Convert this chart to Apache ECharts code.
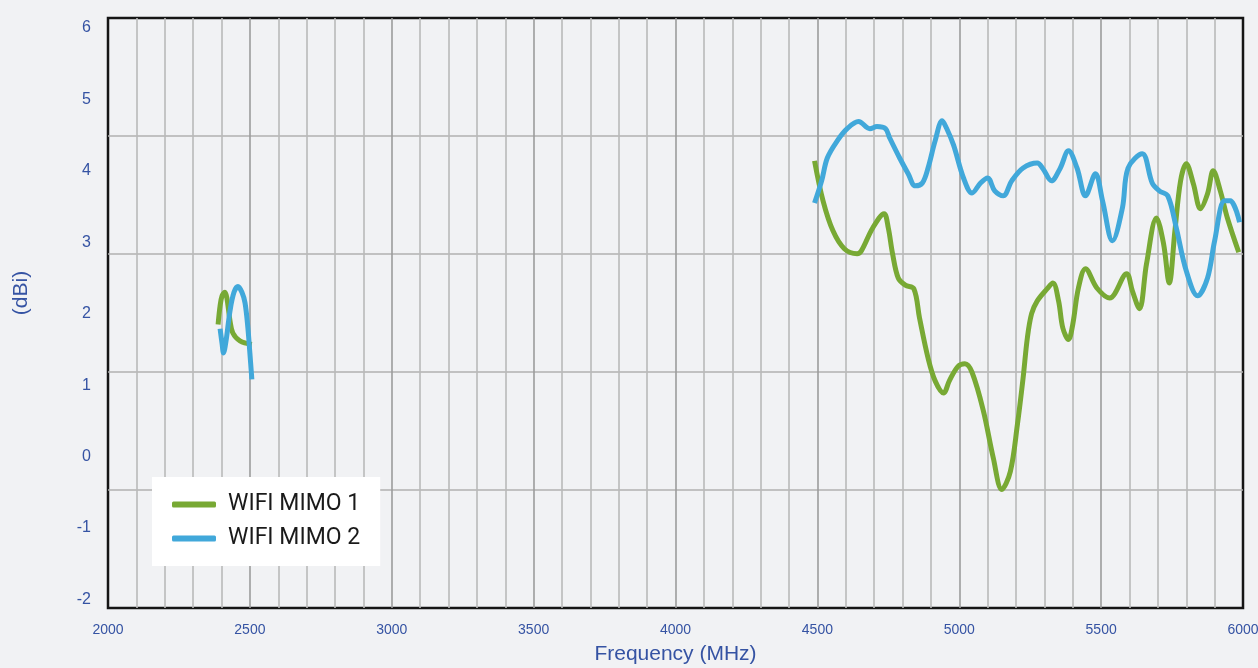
<!DOCTYPE html>
<html>
<head>
<meta charset="utf-8">
<script src="https://cdn.jsdelivr.net/npm/echarts@6/dist/echarts.min.js"></script>
<style>
html,body{margin:0;padding:0;background:#f1f2f4;}
#c{width:1258px;height:668px;}
</style>
</head>
<body>
<div id="c"></div>
<script>
// ---- data (frequency MHz, gain dBi) ----
var seriesNames = ['WIFI MIMO 1', 'WIFI MIMO 2'];
var yTickLabels = [-2, -1, 0, 1, 2, 3, 4, 5, 6];

var mimo1LowFreq = [2388, 2395, 2402, 2412, 2419, 2430, 2440, 2465, 2507];
var mimo1LowGain = [1.85, 2.11, 2.25, 2.30, 2.22, 1.90, 1.73, 1.62, 1.57];

var mimo1HighFreq = [4490, 4520, 4555, 4595, 4640, 4655, 4695, 4735, 4750, 4765, 4785, 4810, 4840, 4860, 4890, 4915, 4945, 4965, 4995, 5020, 5045, 5085, 5120, 5150, 5180, 5205, 5225, 5240, 5255, 5275, 5310, 5330, 5350, 5365, 5385, 5400, 5420, 5445, 5485, 5530, 5590, 5610, 5635, 5660, 5695, 5720, 5740, 5760, 5780, 5800, 5825, 5850, 5875, 5895, 5920, 5945, 5985];
var mimo1HighGain = [4.14, 3.58, 3.16, 2.91, 2.84, 2.88, 3.20, 3.40, 3.20, 2.84, 2.50, 2.40, 2.35, 1.94, 1.38, 1.06, 0.89, 1.06, 1.26, 1.30, 1.18, 0.64, -0.02, -0.46, -0.21, 0.45, 1.10, 1.66, 2.00, 2.18, 2.35, 2.43, 2.18, 1.80, 1.64, 1.85, 2.36, 2.63, 2.36, 2.22, 2.56, 2.32, 2.07, 2.70, 3.34, 2.98, 2.43, 3.16, 3.86, 4.10, 3.82, 3.47, 3.68, 4.00, 3.72, 3.34, 2.86];

var mimo2LowFreq = [2395, 2402, 2407, 2416, 2430, 2444, 2458, 2472, 2483, 2493, 2500, 2507];
var mimo2LowGain = [1.79, 1.58, 1.45, 1.62, 2.04, 2.30, 2.38, 2.30, 2.15, 1.80, 1.45, 1.08];

var mimo2HighFreq = [4490, 4515, 4535, 4570, 4605, 4645, 4685, 4710, 4740, 4755, 4790, 4820, 4845, 4870, 4890, 4915, 4940, 4955, 4980, 5015, 5045, 5075, 5100, 5125, 5155, 5185, 5225, 5275, 5295, 5325, 5355, 5385, 5415, 5445, 5480, 5505, 5540, 5575, 5595, 5645, 5680, 5705, 5735, 5765, 5800, 5840, 5875, 5900, 5935, 5955, 5988];
var mimo2HighGain = [3.55, 3.86, 4.18, 4.42, 4.59, 4.69, 4.59, 4.62, 4.59, 4.46, 4.18, 3.96, 3.79, 3.83, 4.04, 4.42, 4.70, 4.60, 4.36, 3.90, 3.69, 3.83, 3.90, 3.72, 3.65, 3.86, 4.04, 4.11, 4.03, 3.86, 4.03, 4.28, 4.04, 3.65, 3.96, 3.58, 3.02, 3.48, 4.04, 4.24, 3.83, 3.72, 3.65, 3.20, 2.60, 2.25, 2.50, 3.02, 3.58, 3.58, 3.28];

function build(fa, ga, fb, gb) {
  var out = [];
  for (var i = 0; i < fa.length; i++) out.push([fa[i], ga[i]]);
  out.push([3500, null]);
  for (var j = 0; j < fb.length; j++) out.push([fb[j], gb[j]]);
  return out;
}

var labelBlue = '#3553a3';
var chart = echarts.init(document.getElementById('c'), null, {renderer: 'canvas'});
chart.setOption({
  backgroundColor: '#f1f2f4',
  animation: false,
  grid: {
    left: 108, right: 15, top: 18, bottom: 60,
    outerBoundsMode: 'none', containLabel: false,
    show: true, borderColor: '#151515', borderWidth: 2.5, backgroundColor: 'transparent'
  },
  legend: {
    data: seriesNames,
    orient: 'vertical',
    left: 152, top: 477,
    backgroundColor: '#ffffff',
    padding: [16, 20, 16, 20],
    itemGap: 11,
    itemWidth: 44, itemHeight: 6,
    icon: 'roundRect',
    textStyle: {fontFamily: 'Roboto', fontSize: 23, color: '#1a1a1a', padding: [0, 0, 0, 7]}
  },
  xAxis: {
    type: 'value', min: 2000, max: 6000, interval: 500,
    name: 'Frequency (MHz)', nameLocation: 'middle', nameGap: 36,
    nameTextStyle: {fontFamily: 'Liberation Sans', fontSize: 21, color: labelBlue},
    axisLine: {show: false}, axisTick: {show: false},
    axisLabel: {fontFamily: 'Liberation Sans', fontSize: 14, color: labelBlue, margin: 15,
      formatter: function (v) { return String(v); }},
    splitLine: {show: true, showMinLine: false, showMaxLine: false, lineStyle: {color: '#9c9c9c', width: 1.6}},
    minorTick: {show: false, splitNumber: 5},
    minorSplitLine: {show: true, lineStyle: {color: '#b9b9b9', width: 1.6}}
  },
  yAxis: [{
    type: 'value', min: -2.12, max: 6.14,
    name: '(dBi)', nameLocation: 'middle', nameGap: 76,
    nameTextStyle: {fontFamily: 'Liberation Sans', fontSize: 21, color: labelBlue, padding: [0, 0, 0, 40]},
    axisLine: {show: false}, axisTick: {show: false},
    axisLabel: {customValues: yTickLabels, fontFamily: 'Liberation Sans', fontSize: 16, color: labelBlue, margin: 17},
    splitLine: {show: false}
  }, {
    type: 'value', min: 0, max: 5, interval: 1, position: 'left',
    axisLine: {show: false}, axisTick: {show: false}, axisLabel: {show: false},
    splitLine: {show: true, showMinLine: false, showMaxLine: false, lineStyle: {color: '#b0b0b0', width: 1.6}}
  }],
  series: [{
    name: seriesNames[0], type: 'line', yAxisIndex: 0,
    data: build(mimo1LowFreq, mimo1LowGain, mimo1HighFreq, mimo1HighGain),
    smooth: 0.35, showSymbol: false, connectNulls: false,
    itemStyle: {color: '#78a934'},
    lineStyle: {color: '#78a934', width: 5}
  }, {
    name: seriesNames[1], type: 'line', yAxisIndex: 0,
    data: build(mimo2LowFreq, mimo2LowGain, mimo2HighFreq, mimo2HighGain),
    smooth: 0.35, showSymbol: false, connectNulls: false,
    itemStyle: {color: '#41a8da'},
    lineStyle: {color: '#41a8da', width: 5}
  }]
});
</script>
</body>
</html>
